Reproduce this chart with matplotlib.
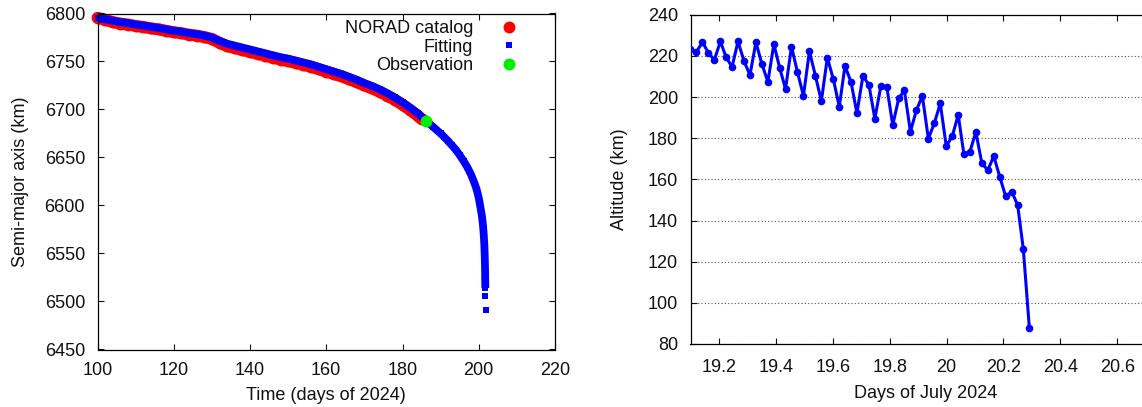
import numpy as np
import matplotlib
matplotlib.use("Agg")
import matplotlib.pyplot as plt

# datos ---------------------------------------------------------------------
# panel izquierdo: semieje mayor (km) vs dia del 2024
norad_t = [100, 102, 104, 106, 108, 110, 112, 114, 116, 118, 120, 122, 124,
           126, 128, 130, 132, 134, 136, 138, 140, 142, 144, 146, 148, 150,
           152, 154, 156, 158, 160, 162, 164, 166, 168, 170, 172, 174, 176,
           178, 180, 182, 184, 185]
norad_a = [6795.5, 6793.5, 6791, 6789.5, 6788.5, 6787, 6786, 6784.5, 6783.5,
           6782, 6780.5, 6779.5, 6778, 6777, 6775.5, 6773.5, 6769.5, 6766,
           6764, 6762, 6760, 6758, 6756, 6754, 6752, 6750.5, 6748.5, 6746.5,
           6744.5, 6742, 6739.5, 6737, 6734.5, 6731.5, 6728.5, 6725, 6722,
           6718.5, 6714.5, 6710, 6705, 6699.5, 6693.5, 6690]

fit_t = [100, 102, 104, 106, 108, 110, 112, 114, 116, 118, 120, 122, 124, 126,
         128, 130, 132, 134, 136, 138, 140, 142, 144, 146, 148, 150, 152, 154,
         156, 158, 160, 162, 164, 166, 168, 170, 172, 174, 176, 178, 180, 182,
         184, 186, 188, 190, 191, 192, 193, 194, 195, 196, 197, 198, 199,
         199.5, 200, 200.4, 200.8, 201.1, 201.3, 201.45, 201.55, 201.62,
         201.67, 201.7, 201.72, 201.75, 201.9]
fit_a = [6795, 6794, 6792.5, 6791, 6790, 6788.5, 6787.5, 6786, 6785, 6783.5,
         6782, 6781, 6779.5, 6778.5, 6777, 6775, 6771.5, 6768.5, 6766.5,
         6764.5, 6762.5, 6760.5, 6758.5, 6756.5, 6754.5, 6753, 6751, 6749,
         6747, 6744.5, 6742, 6739.5, 6737, 6734, 6731, 6727.5, 6724.5, 6721,
         6717, 6712.5, 6707.5, 6702, 6696, 6689, 6682, 6675, 6671, 6667,
         6662.5, 6658, 6652.5, 6646.5, 6640, 6632, 6622, 6616, 6608, 6599,
         6590, 6580, 6570, 6560, 6550, 6540, 6530, 6520, 6514, 6506, 6491]

obs_t = [186.1]
obs_a = [6688]

# panel derecho: altitud (km) vs dias de julio 2024
alt_t = [19.100, 19.121, 19.142, 19.163, 19.184, 19.205, 19.225, 19.246,
         19.267, 19.288, 19.309, 19.330, 19.351, 19.372, 19.393, 19.414,
         19.434, 19.455, 19.476, 19.497, 19.518, 19.539, 19.560, 19.581,
         19.602, 19.623, 19.643, 19.664, 19.685, 19.706, 19.727, 19.748,
         19.769, 19.790, 19.811, 19.832, 19.852, 19.873, 19.894, 19.915,
         19.936, 19.957, 19.978, 19.999, 20.020, 20.041, 20.061, 20.082,
         20.103, 20.124, 20.145, 20.166, 20.187, 20.208, 20.229, 20.250,
         20.270, 20.291]
alt_h = [223.5, 221.9, 226.7, 221.4, 218.1, 227.0, 219.4, 214.6, 227.0, 217.5,
         210.7, 226.6, 216.0, 207.4, 225.7, 213.9, 203.9, 224.5, 212.1, 200.6,
         222.2, 210.4, 198.0, 219.1, 208.7, 195.3, 215.1, 207.4, 192.2, 210.2,
         206.0, 189.5, 205.2, 204.9, 186.4, 199.4, 203.2, 183.2, 193.5, 200.6,
         179.8, 187.2, 196.9, 176.2, 180.9, 191.3, 172.3, 173.3, 183.0, 167.9,
         164.4, 171.3, 161.3, 151.7, 154.0, 147.5, 126.0, 88.0]

# estilo ----------------------------------------------------------------------
fontsize = 13
plt.rcParams.update({'font.size': fontsize,
                     'font.family': ['Liberation Sans', 'DejaVu Sans'],
                     'text.color': '#111111',
                     'axes.labelcolor': '#111111',
                     'xtick.color': '#111111',
                     'ytick.color': '#111111',
                     'axes.linewidth': 0.9})

W, H = 1142, 407
fig = plt.figure(figsize=(W / 100, H / 100), dpi=100)

ax1 = fig.add_axes([97.5 / W, 1 - 349.5 / H, (555 - 97.5) / W, (349.5 - 13.5) / H])
ax2 = fig.add_axes([690.5 / W, 1 - 344 / H, 469.4 / W, (344 - 14.7) / H])

for ax in (ax1, ax2):
    ax.tick_params(direction='in', top=True, right=True, length=4, width=0.8)
    ax.tick_params(axis='y', pad=9)
ax1.tick_params(axis='x', pad=9)
ax2.tick_params(axis='x', pad=11)

# panel izquierdo ---------------------------------------------------------------
red_ms = 8.6
blue_ms = 5.0
ax1.plot(norad_t, norad_a, '-', color='red', lw=red_ms,
         solid_capstyle='round', zorder=1, clip_on=False)
ax1.plot(norad_t, norad_a, 'o', color='red', ms=red_ms, mew=0,
         label='NORAD catalog', zorder=1, clip_on=False)
ax1.plot(fit_t[:-2], fit_a[:-2], '-', color='blue', lw=5.6,
         solid_capstyle='butt', zorder=2)
ax1.plot(fit_t, fit_a, 's', color='blue', ms=blue_ms, mew=0,
         label='Fitting', zorder=2, clip_on=False)
ax1.plot(obs_t, obs_a, 'o', color='#00ee00', ms=red_ms, mew=0,
         label='Observation', zorder=3)

ax1.set_xlim(100, 220)
ax1.set_ylim(6450, 6800)
ax1.set_xticks(np.arange(100, 221, 20))
ax1.set_yticks(np.arange(6450, 6801, 50))
ax1.set_xlabel('Time (days of 2024)', labelpad=6)
ax1.set_ylabel('Semi-major axis (km)', labelpad=11.5)

# con markerfirst=False la columna queda alineada a la derecha (estilo gnuplot)
ax1.legend(loc='upper right', bbox_to_anchor=(0.924, 0.981),
           frameon=False, markerfirst=False, labelspacing=0.1,
           handletextpad=1.4, handlelength=1.2, borderaxespad=0,
           borderpad=0, fontsize=fontsize)

# panel derecho -------------------------------------------------------------------
ax2.plot(alt_t, alt_h, '-o', color='blue', lw=2.2, ms=5.5, mew=0, zorder=3)
ax2.set_xlim(19.1, 20.75)
ax2.set_ylim(80, 240)
ax2.set_xticks([19.2, 19.4, 19.6, 19.8, 20.0, 20.2, 20.4, 20.6])
ax2.set_xticklabels(['19.2', '19.4', '19.6', '19.8', '20', '20.2', '20.4', '20.6'])
ax2.set_yticks(np.arange(80, 241, 20))
ax2.yaxis.grid(True, color='#555555', ls=(0, (1, 2)), lw=0.8)
ax2.set_xlabel('Days of July 2024', labelpad=6)
ax2.set_ylabel('Altitude (km)', labelpad=14)

fig.savefig('out.png', dpi=100)
